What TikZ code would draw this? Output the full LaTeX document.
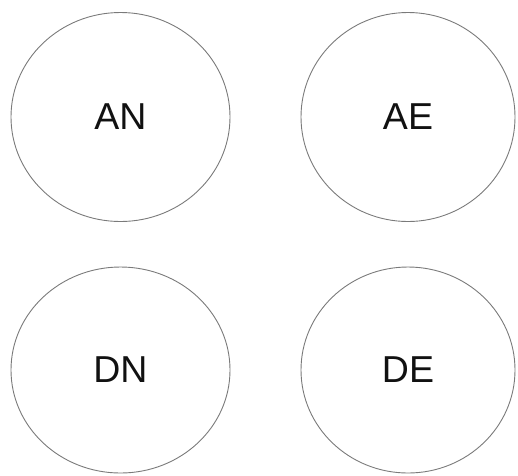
\documentclass[tikz,border=0pt]{standalone}
\usepackage{fontspec}
\setmainfont{Liberation Sans}
\usepackage{tikz}
\usepackage{xcolor}
\definecolor{rim}{HTML}{7A7A7A}
\definecolor{textmain}{HTML}{111111}
\usetikzlibrary{shapes.geometric, positioning}

\begin{document}
\begin{tikzpicture}[
        x=1pt, y=-1pt,
        state/.style={
            ellipse,
            draw=rim,
            line width=0.9pt,
            inner sep=0pt,
            minimum width=219pt,
            minimum height=209pt,
            text=textmain,
            font=\fontsize{37.5}{40}\selectfont
        }
    ]

    % Frame
    \useasboundingbox (0, 0) rectangle (518, 475);

    % Top row
    \node[state] (an) at (120.5, 117) {AN};
    \node[state, minimum width=214pt] (ae) at (408, 117) {AE};

    % Bottom row
    \node[state, minimum height=206pt] (dn) at (120.5, 370) {DN};
    \node[state, minimum width=214pt, minimum height=206pt] (de) at (408, 370) {DE};

\end{tikzpicture}
\end{document}
